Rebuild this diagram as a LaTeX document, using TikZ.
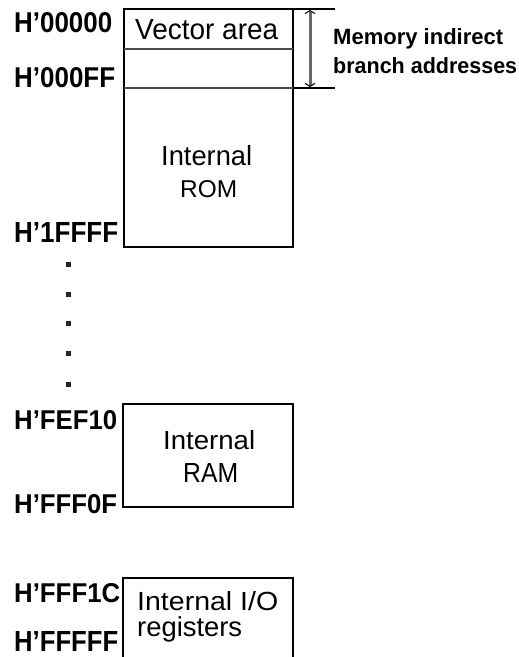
\documentclass[tikz,border=0pt]{standalone}
\usepackage{fontspec}
\setmainfont{Liberation Sans}
\usetikzlibrary{arrows.meta}
\newcommand{\fitw}[2]{\resizebox{#1pt}{!}{#2}}
\newcommand{\fitwh}[3]{\resizebox{#1pt}{#2pt}{#3}}
\definecolor{arrowgray}{RGB}{105,105,85}
\begin{document}
\begin{tikzpicture}[x=1pt,y=-1pt,
  addr/.style={anchor=base west, inner sep=0pt, font=\bfseries},
  lbl/.style={anchor=base, inner sep=0pt},
  lblw/.style={anchor=base west, inner sep=0pt},
  blk/.style={draw=black, line width=1.7pt, line join=miter},
  divline/.style={draw=black!70, line width=1.2pt},
  brk/.style={draw=black, line width=1.1pt},
  brkarrow/.style={draw=arrowgray, line width=3pt,
    {Straight Barb[length=3pt,width=10pt,line width=1pt,color=black]}-{Straight Barb[length=3pt,width=10pt,line width=1pt,color=black]}},
  dotmark/.style={fill=black!85}]
\useasboundingbox (0,0) rectangle (519,657);
\fill[white] (0,0) rectangle (519,657);

% ---- ROM block ----
\coordinate (romTL) at (124,9);
\coordinate (romBR) at (293,247);
\coordinate (vecL) at (124,49);
\coordinate (vecR) at (293,49);
\coordinate (mibL) at (124,88);
\coordinate (mibR) at (293,88);
\draw[blk] (romTL) rectangle (romBR);
\draw[divline] (vecL) -- (vecR);
\draw[divline] (mibL) -- (mibR);
\node[lblw] (vec) at (135,39) {\fitwh{143}{20}{Vector area}};
\node[lblw] (romA) at (161,165) {\fitwh{91}{20}{Internal}};
\node[lblw] (romB) at (180,197) {\fitwh{57}{17}{ROM}};

% ---- RAM block ----
\coordinate (ramTL) at (123,404);
\coordinate (ramBR) at (293,507);
\draw[blk] (ramTL) rectangle (ramBR);
\node[lblw] (ramA) at (163,449) {\fitwh{92}{19}{Internal}};
\node[lblw] (ramB) at (183,482) {\fitwh{55}{19}{RAM}};

% ---- I/O block ----
\coordinate (ioBL) at (123,662);
\coordinate (ioT) at (293,578);
\coordinate (ioBR) at (293,662);
\draw[blk] (ioBL) |- (ioT) -- (ioBR);
\node[lblw] (ioA) at (137,610) {\fitwh{141}{19}{Internal I/O}};
\node[lblw] (ioB) at (137,636) {\fitw{105}{registers}};

% ---- addresses ----
\node[addr] (a0) at (14,32) {\fitwh{98}{20}{H'00000}};
\node[addr] (a1) at (14,87) {\fitwh{101}{20}{H'000FF}};
\node[addr] (a2) at (14,242) {\fitwh{104}{20}{H'1FFFF}};
\node[addr] (a3) at (14,429) {\fitwh{103}{19}{H'FEF10}};
\node[addr] (a4) at (14,513) {\fitwh{103}{19}{H'FFF0F}};
\node[addr] (a5) at (14,602) {\fitwh{106}{19}{H'FFF1C}};
\node[addr] (a6) at (14,651) {\fitwh{104}{20}{H'FFFFF}};

% ---- dots ----
\foreach \yy in {264,294,323,353,384} {
  \fill[dotmark] (65.5,\yy-2.5) rectangle (70.5,\yy+2.5);
}

% ---- bracket ----
\coordinate (bt0) at (293,9);
\coordinate (bt1) at (335,9);
\coordinate (bb0) at (293,88);
\coordinate (bb1) at (335,88);
\coordinate (at) at (310,10);
\coordinate (ab) at (310,87);
\draw[brk] (bt0) -- (bt1);
\draw[brk] (bb0) -- (bb1);
\draw[brkarrow] (at) -- (ab);
\node[addr] (m1) at (333,44) {\fitwh{170}{16}{Memory indirect}};
\node[addr] (m2) at (333,73) {\fitwh{184}{16}{branch addresses}};
\end{tikzpicture}
\end{document}
